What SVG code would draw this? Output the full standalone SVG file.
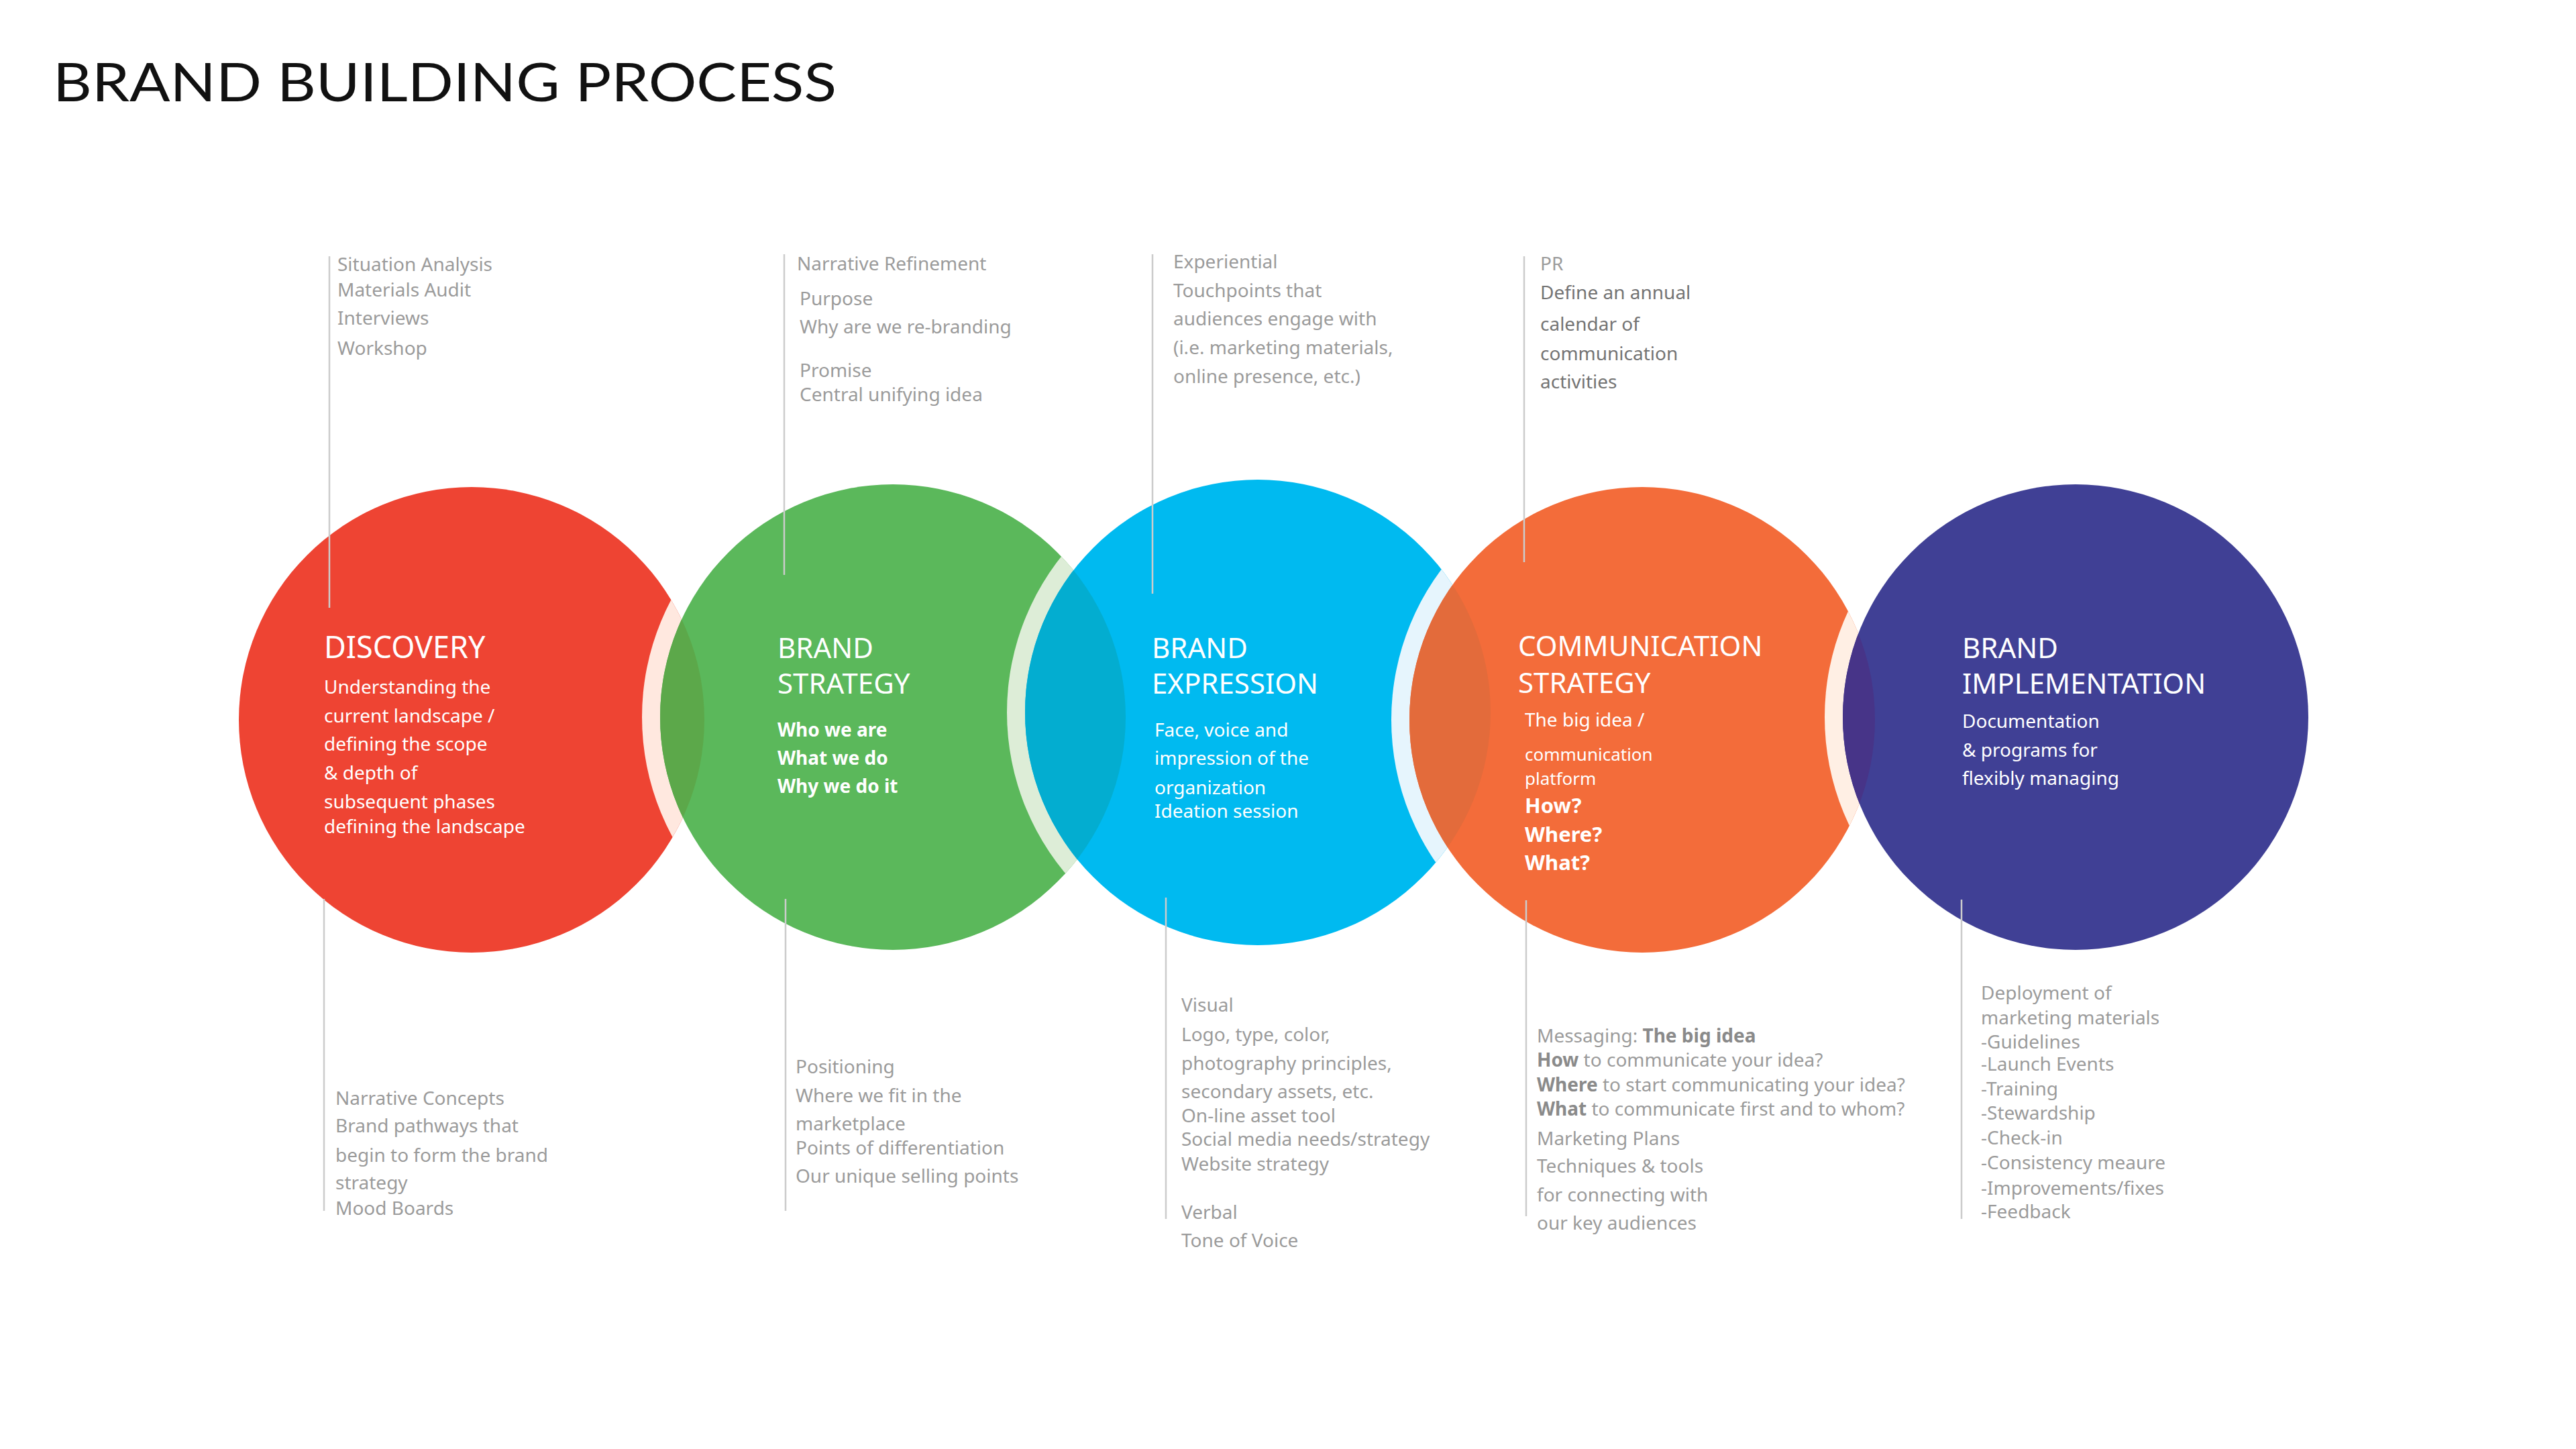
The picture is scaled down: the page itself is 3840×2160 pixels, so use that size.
<svg xmlns="http://www.w3.org/2000/svg" width="3840" height="2160" viewBox="0 0 3840 2160">
<style>
.title{font-family:"Lato","Liberation Sans",sans-serif;font-size:80px;fill:#111111}
.h{font-family:"Noto Sans","Open Sans",sans-serif;font-size:42px;fill:#ffffff}
.b{font-family:"Noto Sans","Open Sans",sans-serif;font-size:28px;fill:#ffffff}
.bb{font-family:"Noto Sans","Open Sans",sans-serif;font-size:28px;font-weight:bold;fill:#ffffff}
.q{font-family:"Noto Sans","Open Sans",sans-serif;font-size:31px;font-weight:bold;fill:#ffffff}
.g{font-family:"Noto Sans","Open Sans",sans-serif;font-size:28px;fill:#9b9b9b}
.gd{font-family:"Noto Sans","Open Sans",sans-serif;font-size:28px;fill:#747474}
.gb{font-weight:bold;fill:#8a8a8a}
.lead{stroke:#cccccc;stroke-width:2.5;fill:none}
</style>
<defs>
<clipPath id="cp1"><circle cx="703" cy="1073" r="347"/></clipPath>
<clipPath id="cp2"><circle cx="1331" cy="1069" r="347"/></clipPath>
<clipPath id="cp3"><circle cx="1875" cy="1062" r="347"/></clipPath>
<clipPath id="cp4"><circle cx="2448" cy="1073" r="347"/></clipPath>
</defs>
<rect width="3840" height="2160" fill="#ffffff"/>
<text class="title" x="79" y="151" textLength="1168" lengthAdjust="spacingAndGlyphs">BRAND BUILDING PROCESS</text>

<g id="discovery">
<circle cx="703" cy="1073" r="347" fill="#ee4433"/>
<text class="h" x="483" y="981" style="font-size:45px">DISCOVERY</text>
<text class="b" x="483" y="1034">Understanding the</text>
<text class="b" x="483" y="1077">current landscape /</text>
<text class="b" x="483" y="1119">defining the scope</text>
<text class="b" x="483" y="1162">&amp; depth of</text>
<text class="b" x="483" y="1205">subsequent phases</text>
<text class="b" x="483" y="1242">defining the landscape</text>
</g>

<g id="brand-strategy">
<circle cx="1331" cy="1069" r="374" fill="#ffe8df" clip-path="url(#cp1)"/>
<circle cx="1331" cy="1069" r="347" fill="#5bb85b"/>
<circle cx="1331" cy="1069" r="347" fill="#5ca84a" clip-path="url(#cp1)"/>
<text class="h" x="1159" y="981">BRAND</text>
<text class="h" x="1159" y="1034">STRATEGY</text>
<text class="bb" x="1159" y="1098">Who we are</text>
<text class="bb" x="1159" y="1140">What we do</text>
<text class="bb" x="1159" y="1182">Why we do it</text>
</g>

<g id="brand-expression">
<circle cx="1875" cy="1062" r="374" fill="#ddedd7" clip-path="url(#cp2)"/>
<circle cx="1875" cy="1062" r="347" fill="#00baf0"/>
<circle cx="1875" cy="1062" r="347" fill="#03add0" clip-path="url(#cp2)"/>
<text class="h" x="1717" y="981">BRAND</text>
<text class="h" x="1717" y="1034">EXPRESSION</text>
<text class="b" x="1721" y="1098">Face, voice and</text>
<text class="b" x="1721" y="1140">impression of the</text>
<text class="b" x="1721" y="1184">organization</text>
<text class="b" x="1721" y="1219">Ideation session</text>
</g>

<g id="communication-strategy">
<circle cx="2448" cy="1073" r="374" fill="#e6f5fd" clip-path="url(#cp3)"/>
<circle cx="2448" cy="1073" r="347" fill="#f36c3a"/>
<circle cx="2448" cy="1073" r="347" fill="#e36b3b" clip-path="url(#cp3)"/>
<text class="h" x="2263" y="978">COMMUNICATION</text>
<text class="h" x="2263" y="1033">STRATEGY</text>
<text class="b" x="2273" y="1083">The big idea /</text>
<text class="b" x="2273" y="1134" style="font-size:26px">communication</text>
<text class="b" x="2273" y="1170" style="font-size:26px">platform</text>
<text class="q" x="2273" y="1212">How?</text>
<text class="q" x="2273" y="1255">Where?</text>
<text class="q" x="2273" y="1297">What?</text>
</g>

<g id="brand-implementation">
<circle cx="3094" cy="1069" r="374" fill="#ffefe4" clip-path="url(#cp4)"/>
<circle cx="3094" cy="1069" r="347" fill="#404095"/>
<circle cx="3094" cy="1069" r="347" fill="#473488" clip-path="url(#cp4)"/>
<text class="h" x="2925" y="981">BRAND</text>
<text class="h" x="2925" y="1034">IMPLEMENTATION</text>
<text class="b" x="2925" y="1085">Documentation</text>
<text class="b" x="2925" y="1128">&amp; programs for</text>
<text class="b" x="2925" y="1170">flexibly managing</text>
</g>

<g id="connectors">
<line class="lead" x1="491" y1="382" x2="491" y2="906"/>
<line class="lead" x1="1169" y1="379" x2="1169" y2="857"/>
<line class="lead" x1="1718" y1="379" x2="1718" y2="885"/>
<line class="lead" x1="2272" y1="382" x2="2272" y2="838"/>
<line class="lead" x1="483" y1="1340" x2="483" y2="1805"/>
<line class="lead" x1="1171" y1="1340" x2="1171" y2="1805"/>
<line class="lead" x1="1738" y1="1338" x2="1738" y2="1817"/>
<line class="lead" x1="2275" y1="1342" x2="2275" y2="1813"/>
<line class="lead" x1="2924" y1="1341" x2="2924" y2="1817"/>
</g>

<g id="discovery-top">
<text class="g" x="503" y="404">Situation Analysis</text>
<text class="g" x="503" y="442">Materials Audit</text>
<text class="g" x="503" y="484">Interviews</text>
<text class="g" x="503" y="529">Workshop</text>
</g>
<g id="strategy-top">
<text class="g" x="1188" y="403">Narrative Refinement</text>
<text class="g" x="1192" y="455">Purpose</text>
<text class="g" x="1192" y="497">Why are we re-branding</text>
<text class="g" x="1192" y="562">Promise</text>
<text class="g" x="1192" y="598">Central unifying idea</text>
</g>
<g id="expression-top">
<text class="g" x="1749" y="400">Experiential</text>
<text class="g" x="1749" y="443">Touchpoints that</text>
<text class="g" x="1749" y="485">audiences engage with</text>
<text class="g" x="1749" y="528">(i.e. marketing materials,</text>
<text class="g" x="1749" y="571">online presence, etc.)</text>
</g>
<g id="communication-top">
<text class="g" x="2296" y="403">PR</text>
<text class="gd" x="2296" y="446">Define an annual</text>
<text class="gd" x="2296" y="493">calendar of</text>
<text class="gd" x="2296" y="537">communication</text>
<text class="gd" x="2296" y="579">activities</text>
</g>

<g id="discovery-bottom">
<text class="g" x="500" y="1647">Narrative Concepts</text>
<text class="g" x="500" y="1688">Brand pathways that</text>
<text class="g" x="500" y="1732">begin to form the brand</text>
<text class="g" x="500" y="1773">strategy</text>
<text class="g" x="500" y="1811">Mood Boards</text>
</g>
<g id="strategy-bottom">
<text class="g" x="1186" y="1600">Positioning</text>
<text class="g" x="1186" y="1643">Where we fit in the</text>
<text class="g" x="1186" y="1685">marketplace</text>
<text class="g" x="1186" y="1721">Points of differentiation</text>
<text class="g" x="1186" y="1763">Our unique selling points</text>
</g>
<g id="expression-bottom">
<text class="g" x="1761" y="1508">Visual</text>
<text class="g" x="1761" y="1552">Logo, type, color,</text>
<text class="g" x="1761" y="1595">photography principles,</text>
<text class="g" x="1761" y="1637">secondary assets, etc.</text>
<text class="g" x="1761" y="1673">On-line asset tool</text>
<text class="g" x="1761" y="1708">Social media needs/strategy</text>
<text class="g" x="1761" y="1745">Website strategy</text>
<text class="g" x="1761" y="1817">Verbal</text>
<text class="g" x="1761" y="1859">Tone of Voice</text>
</g>
<g id="communication-bottom">
<text class="g" x="2291" y="1554">Messaging:<tspan class="gb"> The big idea</tspan></text>
<text class="g" x="2291" y="1590"><tspan class="gb">How</tspan> to communicate your idea?</text>
<text class="g" x="2291" y="1627"><tspan class="gb">Where</tspan> to start communicating your idea?</text>
<text class="g" x="2291" y="1663"><tspan class="gb">What</tspan> to communicate first and to whom?</text>
<text class="g" x="2291" y="1707">Marketing Plans</text>
<text class="g" x="2291" y="1748">Techniques &amp; tools</text>
<text class="g" x="2291" y="1791">for connecting with</text>
<text class="g" x="2291" y="1833">our key audiences</text>
</g>
<g id="implementation-bottom">
<text class="g" x="2953" y="1490">Deployment of</text>
<text class="g" x="2953" y="1527">marketing materials</text>
<text class="g" x="2953" y="1563">-Guidelines</text>
<text class="g" x="2953" y="1596">-Launch Events</text>
<text class="g" x="2953" y="1633">-Training</text>
<text class="g" x="2953" y="1669">-Stewardship</text>
<text class="g" x="2953" y="1706">-Check-in</text>
<text class="g" x="2953" y="1743">-Consistency meaure</text>
<text class="g" x="2953" y="1781">-Improvements/fixes</text>
<text class="g" x="2953" y="1816">-Feedback</text>
</g>
</svg>
